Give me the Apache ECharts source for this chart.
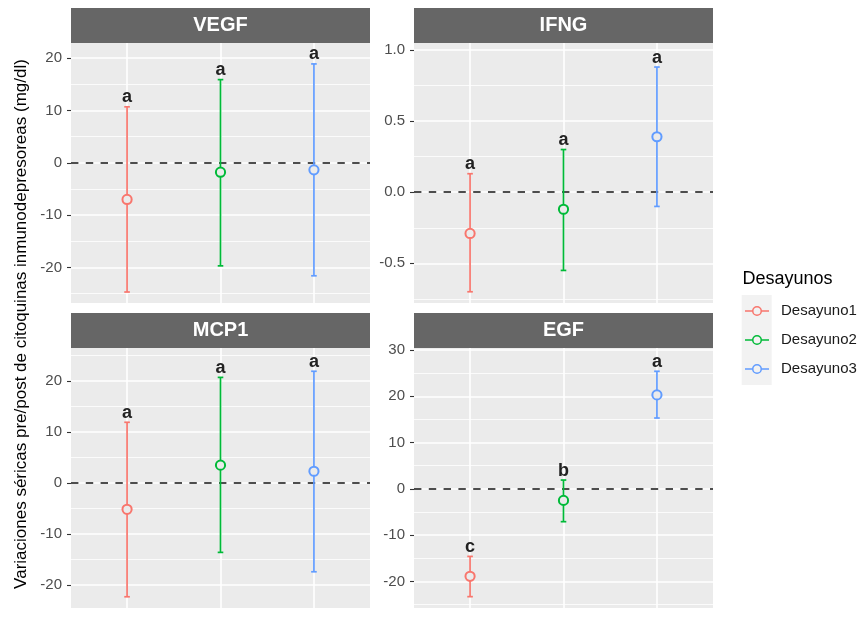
<!DOCTYPE html>
<html>
<head>
<meta charset="utf-8">
<script src="https://cdn.jsdelivr.net/npm/echarts@6/dist/echarts.min.js"></script>
<style>html,body{margin:0;padding:0;background:#fff;}#c{width:861px;height:618px;}</style>
</head>
<body>
<div id="c"></div>
<script>
// ---------- data ----------
const categories = ['Desayuno1', 'Desayuno2', 'Desayuno3'];
const panelNames = ['VEGF', 'IFNG', 'MCP1', 'EGF'];

const vegfMean = [-7.0, -1.8, -1.35];
const vegfLower = [-24.7, -19.7, -21.6];
const vegfUpper = [10.7, 15.9, 18.9];
const vegfLetters = ['a', 'a', 'a'];

const ifngMean = [-0.29, -0.12, 0.39];
const ifngLower = [-0.70, -0.55, -0.10];
const ifngUpper = [0.13, 0.30, 0.88];
const ifngLetters = ['a', 'a', 'a'];

const mcp1Mean = [-5.15, 3.5, 2.3];
const mcp1Lower = [-22.3, -13.6, -17.4];
const mcp1Upper = [11.9, 20.7, 21.9];
const mcp1Letters = ['a', 'a', 'a'];

const egfMean = [-18.9, -2.5, 20.3];
const egfLower = [-23.3, -7.1, 15.3];
const egfUpper = [-14.6, 1.9, 25.4];
const egfLetters = ['c', 'b', 'a'];

const vegfTicks = [-20, -10, 0, 10, 20];
const ifngTicks = [-0.5, 0.0, 0.5, 1.0];
const mcp1Ticks = [-20, -10, 0, 10, 20];
const egfTicks = [-20, -10, 0, 10, 20, 30];

const vegfMinor = [-25, -15, -5, 5, 15];
const ifngMinor = [-0.75, -0.25, 0.25, 0.75];
const mcp1Minor = [-15, -5, 5, 15, 25];
const egfMinor = [-25, -15, -5, 5, 15, 25];

// ---------- styling / layout ----------
const colors = ['#F8766D', '#00BA38', '#619CFF'];
const FONT = '"Liberation Sans", Arial, Helvetica, sans-serif';
const panels = [
  {name: panelNames[0], mean: vegfMean, lo: vegfLower, hi: vegfUpper, letters: vegfLetters, ticks: vegfTicks, minor: vegfMinor, min: -26.8, max: 22.9, dec: 0, left: 71, top: 43},
  {name: panelNames[1], mean: ifngMean, lo: ifngLower, hi: ifngUpper, letters: ifngLetters, ticks: ifngTicks, minor: ifngMinor, min: -0.779, max: 1.049, dec: 1, left: 414, top: 43},
  {name: panelNames[2], mean: mcp1Mean, lo: mcp1Lower, hi: mcp1Upper, letters: mcp1Letters, ticks: mcp1Ticks, minor: mcp1Minor, min: -24.5, max: 26.46, dec: 0, left: 71, top: 348},
  {name: panelNames[3], mean: egfMean, lo: egfLower, hi: egfUpper, letters: egfLetters, ticks: egfTicks, minor: egfMinor, min: -25.75, max: 30.43, dec: 0, left: 414, top: 348}
];
const PW = 299, PH = 260, STRIP = 35;

const grids = [], xAxes = [], yAxes = [], series = [], graphics = [];

panels.forEach((p, pi) => {
  grids.push({left: p.left, top: p.top, width: PW, height: PH, show: true, backgroundColor: '#EBEBEB', borderWidth: 0, containLabel: false});
  xAxes.push({type: 'value', gridIndex: pi, min: 0.4, max: 3.6, axisLine: {show: false}, axisTick: {show: false}, axisLabel: {show: false}, splitLine: {show: false}});
  yAxes.push({
    type: 'value', gridIndex: pi, min: p.min, max: p.max,
    axisLine: {show: false},
    axisTick: {show: true, customValues: p.ticks, length: 4, lineStyle: {color: '#333333', width: 1.1}},
    axisLabel: {show: true, customValues: p.ticks, margin: 9, color: '#4D4D4D', fontSize: 15, fontFamily: FONT,
      formatter: v => Number(v).toFixed(p.dec)},
    splitLine: {show: false}
  });
  // grid lines + zero line
  const mlData = [];
  p.minor.forEach(v => mlData.push({yAxis: v, lineStyle: {color: '#FFFFFF', width: 0.8, type: 'solid'}}));
  p.ticks.forEach(v => mlData.push({yAxis: v, lineStyle: {color: '#FFFFFF', width: 1.6, type: 'solid'}}));
  categories.forEach((c, ci) => mlData.push({xAxis: ci + 1, lineStyle: {color: '#FFFFFF', width: 1.6, type: 'solid'}}));
  series.push({type: 'line', name: 'grid' + pi, xAxisIndex: pi, yAxisIndex: pi, data: [], z: 1, silent: true,
    markLine: {silent: true, z: 1, symbol: 'none', label: {show: false}, animation: false, data: mlData}});
  series.push({type: 'line', name: 'zero' + pi, xAxisIndex: pi, yAxisIndex: pi, data: [], z: 2, silent: true,
    markLine: {silent: true, z: 2, symbol: 'none', label: {show: false}, animation: false,
      data: [{yAxis: 0, lineStyle: {color: '#4D4D4D', width: 1.8, type: [7.4, 7.4]}}]}});
  categories.forEach((c, ci) => {
    const letter = p.letters[ci];
    series.push({
      type: 'custom', name: c, xAxisIndex: pi, yAxisIndex: pi, z: 6,
      itemStyle: {color: colors[ci]},
      data: [[ci + 1, p.mean[ci], p.lo[ci], p.hi[ci]]],
      encode: {x: 0, y: [1, 2, 3]},
      renderItem: (params, api) => {
        const x = api.value(0);
        const pm = api.coord([x, api.value(1)]);
        const pl = api.coord([x, api.value(2)]);
        const ph = api.coord([x, api.value(3)]);
        const col = colors[ci];
        const cw = 2.8;
        return {type: 'group', children: [
          {type: 'line', shape: {x1: pl[0], y1: pl[1], x2: ph[0], y2: ph[1]}, style: {stroke: col, lineWidth: 1.7}},
          {type: 'line', shape: {x1: pl[0] - cw, y1: pl[1], x2: pl[0] + cw, y2: pl[1]}, style: {stroke: col, lineWidth: 1.7}},
          {type: 'line', shape: {x1: ph[0] - cw, y1: ph[1], x2: ph[0] + cw, y2: ph[1]}, style: {stroke: col, lineWidth: 1.7}},
          {type: 'circle', shape: {cx: pm[0], cy: pm[1], r: 4.6}, style: {fill: '#EBEBEB', stroke: col, lineWidth: 2}},
          {type: 'text', x: ph[0], y: ph[1] - 0.5, style: {text: letter, align: 'center', verticalAlign: 'bottom',
            fontSize: 18, fontWeight: 'bold', fontFamily: FONT, fill: '#222222'}}
        ]};
      }
    });
  });
  // strip
  graphics.push({type: 'rect', shape: {x: p.left, y: p.top - STRIP, width: PW, height: STRIP}, style: {fill: '#666666'}, z: 10});
  graphics.push({type: 'text', x: p.left + PW / 2, y: p.top - STRIP / 2, style: {text: p.name, align: 'center', verticalAlign: 'middle',
    fontSize: 20, fontWeight: 'bold', fontFamily: FONT, fill: '#FFFFFF'}, z: 11});
});

// axis title
graphics.push({type: 'text', x: 21.7, y: 324, rotation: Math.PI / 2,
  style: {text: 'Variaciones séricas pre/post de citoquinas inmunodepresoreas (mg/dl)', align: 'center', verticalAlign: 'middle',
    fontSize: 17, fontFamily: FONT, fill: '#000000'}});
// legend title and key background
graphics.push({type: 'text', x: 742.5, y: 279, style: {text: 'Desayunos', align: 'left', verticalAlign: 'middle', fontSize: 18, fontFamily: FONT, fill: '#000000'}});
graphics.push({type: 'rect', shape: {x: 741.7, y: 295, width: 30, height: 90}, style: {fill: '#F2F2F2'}, z: -1});

const iconPath = 'path://M0 4.25H7.5V5.75H0Z M16.5 4.25H24V5.75H16.5Z M12 0A5 5 0 1 1 12 10A5 5 0 1 1 12 0Z M12 1.5A3.5 3.5 0 1 0 12 8.5A3.5 3.5 0 1 0 12 1.5Z';

const option = {
  animation: false,
  backgroundColor: '#FFFFFF',
  grid: grids, xAxis: xAxes, yAxis: yAxes, series: series,
  legend: {
    orient: 'vertical', left: 745, top: 302, padding: 0, itemWidth: 24, itemHeight: 10, itemGap: 11,
    selectedMode: false,
    data: categories.map(c => ({name: c, icon: iconPath})),
    itemStyle: {borderWidth: 0},
    textStyle: {fontSize: 15, fontFamily: FONT, color: '#1A1A1A', lineHeight: 18, padding: [0, 0, 0, 7]}
  },
  graphic: {elements: graphics}
};
const chart = echarts.init(document.getElementById('c'), null, {renderer: 'canvas'});
chart.setOption(option);
</script>
</body>
</html>
